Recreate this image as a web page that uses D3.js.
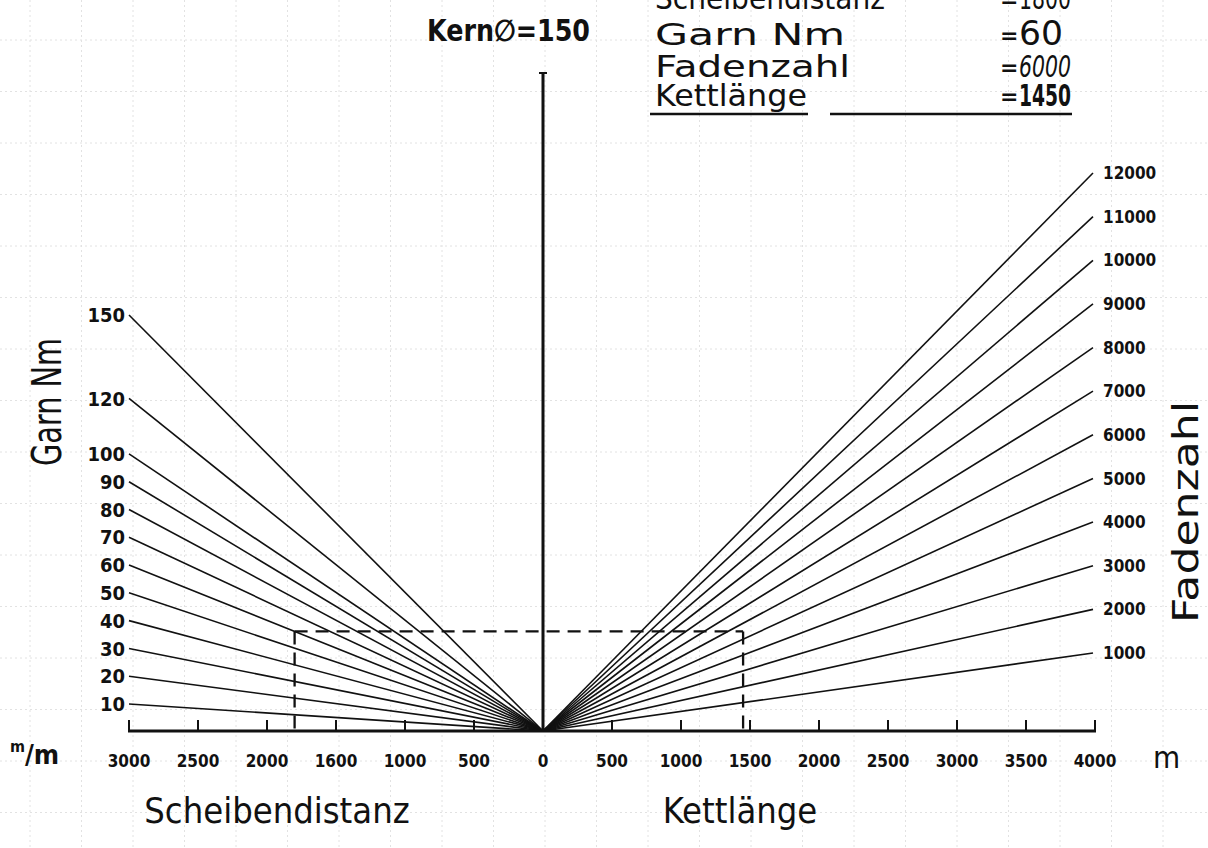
<!DOCTYPE html>
<html>
<head>
<meta charset="utf-8">
<script src="https://cdn.jsdelivr.net/npm/d3@7"></script>
<style>
html,body{margin:0;padding:0;background:#fff;}
svg{display:block;}
</style>
</head>
<body>
<script>
// ---- data ----
const garnNm = [10, 20, 30, 40, 50, 60, 70, 80, 90, 100, 120, 150];
const garnLabels = ["10", "20", "30", "40", "50", "60", "70", "80", "90", "100", "120", "150"];
const fadenzahl = [1000, 2000, 3000, 4000, 5000, 6000, 7000, 8000, 9000, 10000, 11000, 12000];
const fadenLabels = ["1000", "2000", "3000", "4000", "5000", "6000", "7000", "8000", "9000", "10000", "11000", "12000"];
const scheibenTicks = [3000, 2500, 2000, 1500, 1000, 500, 0];
const scheibenTickLabels = ["3000", "2500", "2000", "1600", "1000", "500", "0"];
const kettTicks = [500, 1000, 1500, 2000, 2500, 3000, 3500, 4000];
const kettTickLabels = ["500", "1000", "1500", "2000", "2500", "3000", "3500", "4000"];
const example = {scheibendistanz: 1800, garn: 60, fadenzahl: 6000, kettlaenge: 1450, kern: 150};
const infoLabels = ["Scheibendistanz", "Garn Nm", "Fadenzahl", "Kettlänge"];
const infoValues = ["1800", "60", "6000", "1450"];

const W = 1208, H = 848;
const svg = d3.select("body").append("svg").attr("width", W).attr("height", H);

// graph-paper background
const grid = svg.append("g").attr("stroke", "#e2e2e2").attr("stroke-width", 1).attr("stroke-dasharray", "2,3");
for (let gx = 30; gx < W; gx += 51.5) grid.append("line").attr("x1", gx).attr("x2", gx).attr("y1", 0).attr("y2", H);
for (let gy = 40; gy < H; gy += 51.5) grid.append("line").attr("y1", gy).attr("y2", gy).attr("x1", 0).attr("x2", W);

// scales
const x0 = 543, yBase = 731;
const xLeft = d3.scaleLinear().domain([0, 3000]).range([x0, 129]);
const xRight = d3.scaleLinear().domain([0, 4000]).range([x0, 1095]);
const yLeft = d3.scaleLinear().domain([10, 150]).range([704, 315]);
const yRight = d3.scaleLinear().domain([1000, 12000]).range([653, 173]);

const numFont = "'DejaVu Sans Condensed','Liberation Sans Narrow',sans-serif";
const letFont = "'DejaVu Sans','Open Sans',sans-serif";
const condFont = "'DejaVu Sans Condensed','Open Sans',sans-serif";
const ink = "#111";

// fan lines
const fan = svg.append("g").attr("stroke", ink).attr("stroke-width", 1.6).attr("fill", "none");
garnNm.forEach(v => {
  fan.append("line").attr("x1", x0).attr("y1", yBase).attr("x2", xLeft(3000)).attr("y2", yLeft(v));
});
fadenzahl.forEach(v => {
  fan.append("line").attr("x1", x0).attr("y1", yBase).attr("x2", xRight(4000) - 2).attr("y2", yRight(v));
});

// left labels
svg.append("g").selectAll("text").data(garnNm).join("text")
  .attr("x", xLeft(3000) - 4).attr("y", d => yLeft(d)).attr("dy", "0.36em")
  .attr("text-anchor", "end").attr("font-family", numFont).attr("font-weight", "bold")
  .attr("font-size", 20).attr("fill", ink)
  .text((d, i) => garnLabels[i]);

// right labels
svg.append("g").selectAll("text").data(fadenzahl).join("text")
  .attr("x", xRight(4000) + 8).attr("y", d => yRight(d)).attr("dy", "0.36em")
  .attr("text-anchor", "start").attr("font-family", numFont).attr("font-weight", "bold")
  .attr("font-size", 17).attr("fill", ink)
  .text((d, i) => fadenLabels[i]);

// horizontal axis
const axisG = svg.append("g").attr("stroke", ink);
axisG.append("line").attr("x1", xLeft(3000) - 1).attr("x2", xRight(4000) + 1).attr("y1", yBase).attr("y2", yBase).attr("stroke-width", 3);
scheibenTicks.forEach(t => axisG.append("line").attr("x1", xLeft(t)).attr("x2", xLeft(t)).attr("y1", yBase).attr("y2", yBase - 11).attr("stroke-width", 2));
kettTicks.forEach(t => axisG.append("line").attr("x1", xRight(t)).attr("x2", xRight(t)).attr("y1", yBase).attr("y2", yBase - 11).attr("stroke-width", 2));

// vertical axis
axisG.append("line").attr("x1", x0).attr("x2", x0).attr("y1", yBase).attr("y2", 73).attr("stroke-width", 3);
axisG.append("line").attr("x1", x0 - 4).attr("x2", x0 + 4).attr("y1", 73).attr("y2", 73).attr("stroke-width", 2);

// tick labels
const tl = svg.append("g").attr("font-family", numFont).attr("font-weight", "bold").attr("font-size", 17).attr("fill", ink).attr("text-anchor", "middle");
scheibenTicks.forEach((t, i) => tl.append("text").attr("x", xLeft(t)).attr("y", 767).text(scheibenTickLabels[i]));
kettTicks.forEach((t, i) => tl.append("text").attr("x", xRight(t)).attr("y", 767).text(kettTickLabels[i]));

// units
const mm = svg.append("text").attr("x", 10).attr("y", 764).attr("font-family", condFont).attr("font-weight", "bold").attr("font-size", 27).attr("fill", ink);
mm.append("tspan").attr("font-size", 16).attr("dy", -12).text("m");
mm.append("tspan").attr("dy", 12).text("/m");
svg.append("text").attr("x", 1153).attr("y", 768).attr("font-family", condFont).attr("font-size", 31).attr("fill", ink).text("m");

// dashed example lines
const yEx = yBase + (yLeft(example.garn) - yBase) * example.scheibendistanz / 3000;
const dash = svg.append("g").attr("stroke", ink).attr("stroke-width", 2.3).attr("stroke-dasharray", "13,8").attr("fill", "none");
dash.append("line").attr("x1", xLeft(example.scheibendistanz)).attr("x2", xRight(example.kettlaenge)).attr("y1", yEx).attr("y2", yEx);
dash.append("line").attr("x1", xLeft(example.scheibendistanz)).attr("x2", xLeft(example.scheibendistanz)).attr("y1", yEx).attr("y2", yBase);
dash.append("line").attr("x1", xRight(example.kettlaenge)).attr("x2", xRight(example.kettlaenge)).attr("y1", yEx).attr("y2", yBase);

// axis titles
svg.append("text").attr("transform", "translate(61,402) rotate(-90)").attr("text-anchor", "middle")
  .attr("font-family", condFont).attr("font-size", 40).attr("fill", ink)
  .attr("textLength", 128).attr("lengthAdjust", "spacingAndGlyphs").text("Garn Nm");
svg.append("text").attr("transform", "translate(1198,512) rotate(-90)").attr("text-anchor", "middle")
  .attr("font-family", letFont).attr("font-size", 36).attr("fill", ink)
  .attr("textLength", 222).attr("lengthAdjust", "spacingAndGlyphs").text("Fadenzahl");
svg.append("text").attr("x", 277).attr("y", 823).attr("text-anchor", "middle")
  .attr("font-family", condFont).attr("font-size", 36).attr("fill", ink).text("Scheibendistanz");
svg.append("text").attr("x", 740).attr("y", 823).attr("text-anchor", "middle")
  .attr("font-family", condFont).attr("font-size", 36).attr("fill", ink).text("Kettlänge");

// Kern
svg.append("text").attr("x", 427).attr("y", 41).attr("font-family", numFont).attr("font-weight", "bold")
  .attr("font-size", 30).attr("fill", ink)
  .attr("textLength", 163).attr("lengthAdjust", "spacingAndGlyphs").text("Kern∅=" + example.kern);

// info block
const infoY = [9, 45, 77, 106];
const infoLen = [230, 190, 195, 152];
const valLen = [52, 44, 52, 52];
const valSize = [30, 34, 30, 30];
infoLabels.forEach((l, i) => {
  svg.append("text").attr("x", 655).attr("y", infoY[i]).attr("font-family", letFont).attr("font-size", 31).attr("fill", ink)
    .attr("textLength", infoLen[i]).attr("lengthAdjust", "spacingAndGlyphs").text(l);
  svg.append("text").attr("x", 1000).attr("y", infoY[i] - 2).attr("font-family", letFont).attr("font-weight", "bold").attr("font-size", 22).attr("fill", ink).text("=");
  svg.append("text").attr("x", 1019).attr("y", infoY[i]).attr("font-family", i === 1 ? letFont : numFont).attr("font-size", valSize[i])
    .attr("font-style", i === 2 ? "italic" : "normal").attr("font-weight", i === 3 ? "bold" : "normal").attr("fill", ink)
    .attr("textLength", valLen[i]).attr("lengthAdjust", "spacingAndGlyphs").text(infoValues[i]);
});
svg.append("line").attr("x1", 650).attr("x2", 808).attr("y1", 114).attr("y2", 114).attr("stroke", ink).attr("stroke-width", 2.5);
svg.append("line").attr("x1", 830).attr("x2", 1072).attr("y1", 114).attr("y2", 114).attr("stroke", ink).attr("stroke-width", 2.5);
</script>
</body>
</html>
